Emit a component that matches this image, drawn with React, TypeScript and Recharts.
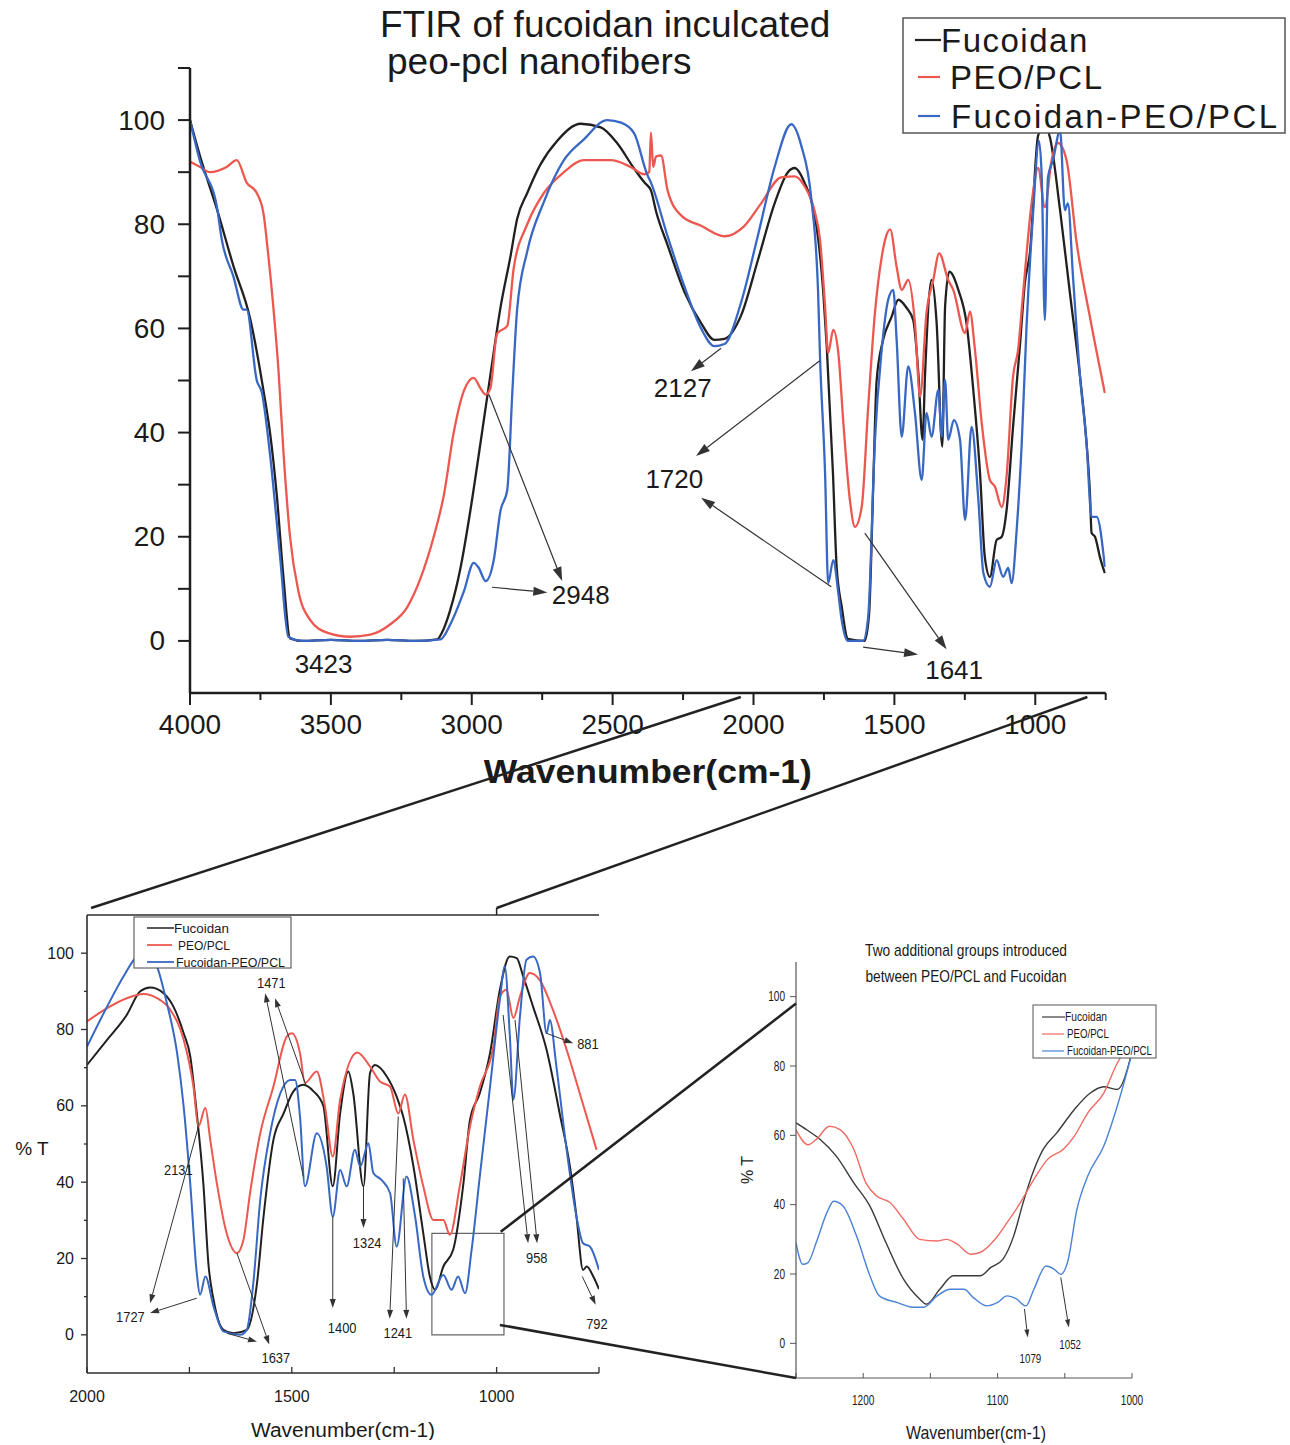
import React from 'react';
import { LineChart, Line, XAxis, YAxis, ReferenceLine, ReferenceDot, ReferenceArea } from 'recharts';

// ---------------- Top panel (full spectrum) ----------------
const topFucoidanWn = [4000,3964,3905,3846,3787,3739,3716,3692,3668,3645,3600,3500,3400,3300,3200,3123,3099,3076,3040,3005,2969,2934,2898,2862,2839,2803,2756,2697,2613,2542,2483,2424,2387,2364,2346,2305,2245,2186,2139,2103,2044,1985,1925,1878,1854,1819,1783,1770,1753,1740,1718,1705,1687,1665,1606,1590,1575,1563,1540,1510,1486,1456,1433,1415,1400,1391,1368,1350,1330,1320,1305,1273,1244,1220,1196,1179,1161,1137,1119,1102,1079,1054,1037,1019,990,968,948,912,877,841,818,806,800,788,770,753];
const topFucoidanT = [100,93,83,72,62,48,40,28,12,0.5,0,0.2,0,0.2,0,0.3,2.4,6,14,25,38,51,64,74,81,86,91.5,96,99.3,98.6,95.5,90.7,88,86.5,82.5,76,67,61,57.8,58,62.5,73,84,90,90.8,88,81.7,77,67.4,56.5,32.2,14.3,6.6,0.4,0,5,30,50,57.8,62.2,65.5,63.9,61.6,51.4,38.6,51.4,69.3,61,37.3,64.2,70.9,67.4,61,48.2,32.2,16.1,12.3,19.4,20,25,41,57,68.7,74.5,97,99,96.7,82.7,66.8,50.7,38,28.4,20.7,20,16,13];

const topPeoPclWn = [4000,3964,3929,3870,3834,3799,3763,3739,3722,3704,3686,3668,3645,3615,3573,3514,3431,3360,3289,3230,3182,3135,3099,3064,3028,2993,2969,2951,2934,2910,2874,2851,2803,2744,2673,2602,2507,2436,2387,2370,2364,2356,2346,2328,2305,2257,2186,2103,2032,1973,1902,1854,1819,1783,1764,1746,1735,1717,1699,1681,1658,1640,1616,1593,1569,1545,1533,1515,1492,1474,1451,1427,1409,1386,1362,1341,1309,1291,1249,1232,1214,1190,1161,1143,1119,1102,1079,1061,1043,1013,990,966,942,919,889,853,806,753];
const topPeoPclT = [92,91,90,91,92.3,88,86,82,74,64,52,36,20,9.5,4,1.6,0.8,1.2,3.2,6.4,12,20,28,40,48,50.5,48.5,47.3,48.5,59,60.5,71.6,80,86,90,92.3,92.3,91,89.6,90,97.6,91,93,93.2,86.5,81.7,79.7,77.7,79.7,84,89,89.2,87.3,82.5,77,64.2,55.3,59.7,55.3,41.8,27.1,21.9,25.7,44.9,63,73.7,77,79,71.8,67.4,69.3,61,46.9,63,69.3,74.4,69.3,67.4,59.1,63.2,55.9,41.8,30.9,29.6,25.7,31.5,50.7,55.9,66.8,84,90.8,83.3,92.3,95.6,92.3,76.4,62.2,47.6];

const topComboWn = [4000,3964,3905,3887,3846,3810,3799,3763,3745,3716,3680,3651,3600,3500,3400,3300,3200,3111,3076,3028,2993,2975,2951,2922,2898,2874,2856,2839,2803,2744,2673,2602,2519,2470,2424,2377,2364,2305,2245,2186,2139,2103,2044,1985,1925,1866,1830,1795,1771,1764,1746,1735,1717,1699,1687,1665,1611,1593,1569,1545,1522,1504,1492,1474,1451,1427,1403,1386,1368,1344,1332,1320,1309,1289,1267,1249,1226,1202,1184,1161,1137,1114,1096,1084,1066,1048,1031,1007,987,977,966,955,937,912,895,884,866,841,818,800,782,753];
const topComboT = [100,92,83.5,77,70,63.6,63.6,50,47.7,35.8,16,0.8,0,0.2,0,0.2,0,0.3,3.2,9.5,15,14,11.5,15.5,25,29,47.7,63.6,74.8,84.3,92.3,96.3,100,99.5,97.5,89.5,88,77.7,68,60,56.6,57,65,77.7,91,99.2,95,85,67.3,54.6,32.2,11.1,15.5,9.2,4,0,0,4.6,38.6,55.9,65.5,67.4,57.8,39.2,52.7,43.8,30.9,43.8,39.2,48.2,39.2,50.1,38.6,42.4,38.6,23.2,41.1,27.1,13,10.4,15.5,12.3,14,11.1,21.3,38,60.3,82.7,96,89,61.6,89,92.3,98,82.7,84,69.9,50.7,38,23.8,23.8,14.2];

const topXTicks = [4000,3750,3500,3250,3000,2750,2500,2250,2000,1750,1500,1250,1000,750];
const topXMajor = [4000,3500,3000,2500,2000,1500,1000];
const topYTicks = [0,10,20,30,40,50,60,70,80,90,100,110];
const topYMajor = [0,20,40,60,80,100];

const topArrows = [
  { from: [2928, 10.3], to: [2732, 9.3] },
  { from: [2939, 47.3], to: [2679, 11.5] },
  { from: [2115, 56.2], to: [2222, 51.8] },
  { from: [1765, 53.8], to: [2204, 35.5] },
  { from: [1724, 10.4], to: [2186, 27.5] },
  { from: [1605, 20.7], to: [1315, -1.6] },
  { from: [1611, -1.2], to: [1416, -2.6] },
];
const topPeakLabels = [
  { wn: 3526, t: -4.4, text: '3423' },
  { wn: 2613, t: 8.8, text: '2948' },
  { wn: 2251, t: 48.6, text: '2127' },
  { wn: 2281, t: 31.1, text: '1720' },
  { wn: 1288, t: -5.6, text: '1641' },
];

// ---------------- Bottom-left panel (2000-750) ----------------
const zoomFucoidanWn = [2000,1951,1903,1870,1846,1813,1789,1764,1748,1732,1716,1703,1691,1667,1642,1610,1585,1569,1545,1520,1496,1472,1447,1423,1400,1382,1362,1350,1325,1309,1297,1268,1244,1228,1203,1179,1163,1150,1130,1106,1081,1065,1041,1016,992,968,951,935,911,878,846,821,805,789,780,764,750];
const zoomFucoidanT = [70.7,77.3,83.8,90,91,89.5,86,79,73,58,39.7,17.9,9.2,1.3,0.4,1.3,13.5,31,51,58,63.8,65.5,63.8,60,38.9,58,69,63.3,38.9,68.6,70.7,67.7,62.4,57.2,44.1,26.6,15.3,11.8,17.9,22.3,39.7,56.3,63.3,73.8,90.4,99.1,98.7,93.9,86,74.7,58,44.1,31,17,17.9,15.3,12];

const zoomPeoPclWn = [2000,1951,1903,1862,1829,1797,1764,1740,1728,1711,1699,1683,1659,1634,1618,1602,1577,1545,1512,1500,1480,1468,1439,1419,1400,1382,1340,1309,1285,1260,1240,1224,1203,1179,1154,1130,1114,1090,1065,1041,1008,992,976,959,943,919,895,862,829,797,756];
const zoomPeoPclT = [82.1,85.6,88.2,89.3,88.2,85.2,77.3,65,54.6,59.4,51,39.7,26.6,21.4,24.9,37.1,52.8,65,78.2,79,73.8,66,69,59.8,46.7,61.6,74,70.3,66.4,65,58,63,51,38.9,30.1,30.1,26.2,38.9,54.6,65,75.5,88.6,90.4,83,88.6,94.8,93,85,74.7,63.3,48.5];

const zoomComboWn = [2000,1951,1911,1878,1854,1829,1805,1780,1764,1748,1732,1724,1711,1691,1667,1626,1610,1594,1577,1553,1528,1504,1492,1480,1468,1439,1415,1400,1382,1366,1346,1333,1313,1301,1281,1260,1244,1220,1199,1179,1159,1130,1110,1094,1077,1061,1041,1016,992,980,968,959,943,927,911,894,878,870,854,829,805,789,772,750];
const zoomComboT = [75.5,86,93.9,99.1,100,96.5,86.9,73.8,59.8,39.7,16.2,10.5,15.3,7.4,0.9,0,1.3,13.5,35.4,52.8,63.3,66.8,66.8,57.2,38.9,52.8,44.1,31,43.2,38.9,48.5,44.1,50.2,42.4,40.6,37.1,23.1,41.5,31,15.3,10.5,15.7,11.8,15.3,10.9,22.3,41.5,65,87.8,96.5,79,61.6,83.4,98.3,99.1,94.8,79,82.5,70.3,48.5,31,24,23.1,17];

const zoomXTicks = [2000,1750,1500,1250,1000,750];
const zoomXMajor = [2000,1500,1000];
const zoomYTicks = [0,10,20,30,40,50,60,70,80,90,100];
const zoomYMajor = [0,20,40,60,80,100];

const zoomArrows = [
  { from: [1472, 41.5], to: [1565, 89.5] },
  { from: [1464, 65], to: [1541, 88.2] },
  { from: [1728, 54.6], to: [1846, 8.3] },
  { from: [1732, 9.6], to: [1846, 5.7] },
  { from: [1634, 21.4], to: [1555, -2.5] },
  { from: [1658, 0.4], to: [1585, -1.8] },
  { from: [1400, 31], to: [1400, 7] },
  { from: [1325, 38.9], to: [1325, 28] },
  { from: [1240, 57.2], to: [1261, 4.2] },
  { from: [1228, 41], to: [1220, 4.2] },
  { from: [984, 83.8], to: [923, 24] },
  { from: [955, 82.5], to: [901, 24] },
  { from: [878, 79], to: [813, 76.4] },
  { from: [791, 15.3], to: [758, 7.9] },
];
const zoomPeakLabels = [
  { wn: 1550, t: 92, text: '1471' },
  { wn: 1777, t: 43.2, text: '2131' },
  { wn: 1894, t: 4.5, text: '1727' },
  { wn: 1539, t: -6.2, text: '1637' },
  { wn: 1377, t: 1.6, text: '1400' },
  { wn: 1316, t: 24, text: '1324' },
  { wn: 1241, t: 0.5, text: '1241' },
  { wn: 902, t: 20.1, text: '958' },
  { wn: 777, t: 76, text: '881' },
  { wn: 755, t: 2.7, text: '792' },
];
const zoomBox = { wnFrom: 1158, wnTo: 982, tFrom: 0, tTo: 26.6 };

// ---------------- Bottom-right panel (1250-1000) ----------------
const detailFucoidanWn = [1250,1242,1232,1220,1207,1195,1183,1170,1158,1153,1143,1133,1123,1113,1105,1096,1088,1081,1073,1066,1056,1043,1031,1021,1011,1000];
const detailFucoidanT = [63.6,61.6,58.8,54,46.3,39.6,29,18.5,12.8,11.3,15.6,19.5,19.5,19.5,21.9,24.3,31,40.6,50,56,60.7,67.4,72.2,74,73.2,84];
const detailPeoPclWn = [1250,1241,1235,1225,1217,1207,1198,1190,1180,1170,1158,1145,1138,1130,1120,1113,1103,1093,1083,1073,1063,1051,1043,1033,1021,1011,1000];
const detailPeoPclT = [61.6,57.3,58.8,62.6,61.6,56,46.3,42.5,40.6,35.8,30,29.5,30,28.6,25.7,26.2,29.5,34.8,40.6,47.3,53,56,59.7,66.4,72.2,80.8,87];
const detailComboWn = [1250,1245,1241,1235,1227,1222,1215,1205,1195,1188,1175,1163,1155,1145,1135,1125,1118,1108,1100,1093,1086,1079,1073,1064,1058,1053,1048,1041,1033,1021,1011,1000];
const detailComboT = [29,22.8,23.3,29,37.7,41,39.6,31,19.5,13.7,11.8,10.4,10.4,13.7,15.6,15.6,13.2,10.8,11.8,13.7,12.8,10.8,15.6,22.3,21.4,19.9,23.3,38.6,48.2,56.9,68.4,83.7];

const detailXTicks = [1250,1200,1150,1100,1050,1000];
const detailXMajor = [1200,1100,1000];
const detailYTicks = [0,20,40,60,80,100];
const detailYMajor = [0,20,40,60,80,100];
const detailArrows = [
  { from: [1080, 9.9], to: [1077.6, 1.7] },
  { from: [1053, 19], to: [1047, 4.6] },
];
const detailPeakLabels = [
  { wn: 1075.6, t: -4.5, text: '1079' },
  { wn: 1046, t: -0.2, text: '1052' },
];

const SERIES_NAMES = ['Fucoidan', 'PEO/PCL', 'Fucoidan-PEO/PCL'];

// ---------------- layout ----------------
const SANS = "'Liberation Sans', Arial, sans-serif";
const C_BLACK = '#221f1f';
const C_RED = '#ec5850';
const C_BLUE = '#3868c3';

const TOP = { left: 190, top: 68, width: 915.7, height: 625, wMin: 750, wMax: 4000 };
const BL = { boxLeft: 0, boxTop: 880, w: 640, h: 560, left: 87, top: 915, width: 512, height: 458, wMin: 750, wMax: 2000 };
const BR = { boxLeft: 700, boxTop: 900, w: 450, h: 545, left: 796, top: 962, width: 336, height: 416, wMin: 1000, wMax: 1250 };

const topX = (w: number) => TOP.left + ((TOP.wMax - w) / (TOP.wMax - TOP.wMin)) * TOP.width;
const topY = (v: number) => TOP.top + ((110 - v) / 120) * TOP.height;
const blX = (w: number) => BL.left + ((BL.wMax - w) / (BL.wMax - BL.wMin)) * BL.width;
const blY = (v: number) => BL.top + ((110 - v) / 120) * BL.height;
const brX = (w: number) => BR.left + ((BR.wMax - w) / (BR.wMax - BR.wMin)) * BR.width;
const brY = (v: number) => BR.top + ((110 - v) / 120) * BR.height;

const rows = (wn: number[], t: number[]) => wn.map((w, i) => ({ wn: w, t: t[i] }));

type TickOpts = {
  side: 'bottom' | 'left' | 'top';
  majors: number[];
  len: number;
  minorLen: number;
  inward: boolean;
  fontSize: number;
  gap: number;
  color: string;
  stroke: number;
  labels: boolean;
  squeeze?: number;
};

const makeTick = (o: TickOpts) => (props: any) => {
  const { x, y, payload } = props;
  const v = payload ? payload.value : 0;
  const major = o.majors.includes(v);
  const L = major ? o.len : o.minorLen;
  const sq = o.squeeze || 1;
  if (o.side === 'left') {
    const x2 = o.inward ? x + L : x - L;
    const tx = x - o.gap;
    return (
      <g>
        <line x1={x} y1={y} x2={x2} y2={y} stroke={o.color} strokeWidth={o.stroke} />
        {major && o.labels ? (
          <text x={tx} y={y} transform={sq !== 1 ? `translate(${tx} 0) scale(${sq} 1) translate(${-tx} 0)` : undefined} textAnchor="end" dominantBaseline="central" fontSize={o.fontSize} fontFamily={SANS} fill="#1a1a1a">{v}</text>
        ) : null}
      </g>
    );
  }
  if (o.side === 'top') {
    const y2 = o.inward ? y + L : y - L;
    return <g><line x1={x} y1={y} x2={x} y2={y2} stroke={o.color} strokeWidth={o.stroke} /></g>;
  }
  const y2 = o.inward ? y - L : y + L;
  return (
    <g>
      <line x1={x} y1={y} x2={x} y2={y2} stroke={o.color} strokeWidth={o.stroke} />
      {major && o.labels ? (
        <text x={x} y={y + o.gap} transform={sq !== 1 ? `translate(${x} 0) scale(${sq} 1) translate(${-x} 0)` : undefined} textAnchor="middle" dominantBaseline="central" fontSize={o.fontSize} fontFamily={SANS} fill="#1a1a1a">{v}</text>
      ) : null}
    </g>
  );
};

const arrowShape = (color: string, width: number, headLen: number, headHalf: number) => (p: any) => {
  const { x1, y1, x2, y2 } = p;
  if ([x1, y1, x2, y2].some((n) => typeof n !== 'number' || isNaN(n))) return <g />;
  const dx = x2 - x1;
  const dy = y2 - y1;
  const L = Math.hypot(dx, dy) || 1;
  const ux = dx / L;
  const uy = dy / L;
  const bx = x2 - ux * headLen;
  const by = y2 - uy * headLen;
  const px = -uy * headHalf;
  const py = ux * headHalf;
  return (
    <g>
      <line x1={x1} y1={y1} x2={bx} y2={by} stroke={color} strokeWidth={width} />
      <polygon points={`${x2},${y2} ${bx + px},${by + py} ${bx - px},${by - py}`} fill={color} />
    </g>
  );
};

const textShape = (text: string, size: number, squeeze = 1) => (p: any) => (
  <text
    x={p.cx}
    y={p.cy}
    transform={squeeze !== 1 ? `translate(${p.cx} 0) scale(${squeeze} 1) translate(${-p.cx} 0)` : undefined}
    textAnchor="middle"
    dominantBaseline="central"
    fontSize={size}
    fontFamily={SANS}
    fill="#1a1a1a"
  >
    {text}
  </text>
);

function TopPanel() {
  const axisStroke = '#1e1e1e';
  return (
    <div style={{ position: 'absolute', left: 0, top: 0 }}>
      <LineChart
        width={1290}
        height={800}
        margin={{ top: TOP.top, right: 1290 - TOP.left - TOP.width, bottom: 800 - TOP.top - TOP.height - 40, left: TOP.left - 80 }}
      >
        <XAxis
          dataKey="wn"
          type="number"
          domain={[TOP.wMin, TOP.wMax]}
          reversed
          allowDataOverflow
          ticks={topXTicks}
          interval={0}
          tickSize={0}
          tickMargin={0}
          tickLine={false}
          height={40}
          axisLine={{ stroke: axisStroke, strokeWidth: 2.5 }}
          tick={makeTick({ side: 'bottom', majors: topXMajor, len: 12, minorLen: 7, inward: false, fontSize: 28, gap: 31, color: axisStroke, stroke: 2, labels: true })}
          label={(p: any) => {
            const vb = p && p.viewBox ? p.viewBox : { x: TOP.left, y: TOP.top + TOP.height, width: TOP.width };
            return (
              <text x={vb.x + vb.width / 2} y={vb.y + 90} textAnchor="middle" textLength={328} lengthAdjust="spacingAndGlyphs" fontSize={33} fontWeight="bold" fontFamily={SANS} fill="#1a1a1a">
                Wavenumber(cm-1)
              </text>
            );
          }}
        />
        <YAxis
          type="number"
          domain={[-10, 110]}
          allowDataOverflow
          ticks={topYTicks}
          interval={0}
          tickSize={0}
          tickMargin={0}
          tickLine={false}
          width={80}
          axisLine={{ stroke: axisStroke, strokeWidth: 2.5 }}
          tick={makeTick({ side: 'left', majors: topYMajor, len: 12, minorLen: 12, inward: false, fontSize: 28, gap: 25, color: axisStroke, stroke: 2, labels: true })}
        />
        <Line data={rows(topFucoidanWn, topFucoidanT)} dataKey="t" name={SERIES_NAMES[0]} type="monotone" stroke={C_BLACK} strokeWidth={2.3} dot={false} isAnimationActive={false} />
        <Line data={rows(topPeoPclWn, topPeoPclT)} dataKey="t" name={SERIES_NAMES[1]} type="monotone" stroke={C_RED} strokeWidth={2.3} dot={false} isAnimationActive={false} />
        <Line data={rows(topComboWn, topComboT)} dataKey="t" name={SERIES_NAMES[2]} type="monotone" stroke={C_BLUE} strokeWidth={2.3} dot={false} isAnimationActive={false} />
        {topArrows.map((a, i) => (
          <ReferenceLine key={'ta' + i} segment={[{ x: a.from[0], y: a.from[1] }, { x: a.to[0], y: a.to[1] }]} ifOverflow="visible" shape={arrowShape('#333', 1.2, 14, 4.5)} />
        ))}
        {topPeakLabels.map((l, i) => (
          <ReferenceDot key={'tl' + i} x={l.wn} y={l.t} r={0} ifOverflow="visible" shape={textShape(l.text, 26)} />
        ))}
      </LineChart>
    </div>
  );
}

function ZoomPanel() {
  const axisStroke = '#2e2e2e';
  return (
    <div style={{ position: 'absolute', left: BL.boxLeft, top: BL.boxTop }}>
      <LineChart
        width={BL.w}
        height={BL.h}
        margin={{ top: BL.top - BL.boxTop - 30, right: BL.w - (BL.left - BL.boxLeft) - BL.width, bottom: BL.h - (BL.top - BL.boxTop) - BL.height - 30, left: BL.left - BL.boxLeft - 50 }}
      >
        <XAxis
          dataKey="wn"
          type="number"
          domain={[BL.wMin, BL.wMax]}
          reversed
          allowDataOverflow
          ticks={zoomXTicks}
          interval={0}
          tickSize={0}
          tickMargin={0}
          tickLine={false}
          height={30}
          axisLine={{ stroke: axisStroke, strokeWidth: 1.6 }}
          tick={makeTick({ side: 'bottom', majors: zoomXMajor, len: 6, minorLen: 6, inward: true, fontSize: 16, gap: 23, color: axisStroke, stroke: 1.3, labels: true })}
          label={(p: any) => {
            const vb = p && p.viewBox ? p.viewBox : { x: BL.left, y: BL.top + BL.height - BL.boxTop, width: BL.width };
            return (
              <text x={vb.x + vb.width / 2} y={vb.y + 64} textAnchor="middle" textLength={184} lengthAdjust="spacingAndGlyphs" fontSize={20} fontFamily={SANS} fill="#1a1a1a">
                Wavenumber(cm-1)
              </text>
            );
          }}
        />
        <XAxis
          xAxisId="top"
          orientation="top"
          type="number"
          domain={[BL.wMin, BL.wMax]}
          reversed
          allowDataOverflow
          ticks={zoomXTicks}
          interval={0}
          tickSize={0}
          tickMargin={0}
          tickLine={false}
          height={30}
          axisLine={{ stroke: axisStroke, strokeWidth: 1.6 }}
          tick={makeTick({ side: 'top', majors: zoomXMajor, len: 5, minorLen: 5, inward: false, fontSize: 16, gap: 0, color: axisStroke, stroke: 1.3, labels: false })}
        />
        <YAxis
          type="number"
          domain={[-10, 110]}
          allowDataOverflow
          ticks={zoomYTicks}
          interval={0}
          tickSize={0}
          tickMargin={0}
          tickLine={false}
          width={50}
          axisLine={{ stroke: axisStroke, strokeWidth: 1.6 }}
          tick={makeTick({ side: 'left', majors: zoomYMajor, len: 6, minorLen: 3, inward: false, fontSize: 16, gap: 13, color: axisStroke, stroke: 1.3, labels: true })}
          label={(p: any) => {
            const vb = p && p.viewBox ? p.viewBox : { x: BL.left - 50, y: BL.top - BL.boxTop };
            return (
              <text x={vb.x - 5} y={vb.y + 240} textAnchor="middle" fontSize={19} fontFamily={SANS} fill="#1a1a1a">
                % T
              </text>
            );
          }}
        />
        <Line data={rows(zoomFucoidanWn, zoomFucoidanT)} dataKey="t" name={SERIES_NAMES[0]} type="monotone" stroke={C_BLACK} strokeWidth={2} dot={false} isAnimationActive={false} />
        <Line data={rows(zoomPeoPclWn, zoomPeoPclT)} dataKey="t" name={SERIES_NAMES[1]} type="monotone" stroke={C_RED} strokeWidth={2} dot={false} isAnimationActive={false} />
        <Line data={rows(zoomComboWn, zoomComboT)} dataKey="t" name={SERIES_NAMES[2]} type="monotone" stroke={C_BLUE} strokeWidth={2} dot={false} isAnimationActive={false} />
        <ReferenceArea x1={zoomBox.wnFrom} x2={zoomBox.wnTo} y1={zoomBox.tFrom} y2={zoomBox.tTo} fill="none" fillOpacity={0} stroke="#666" strokeWidth={1.2} ifOverflow="visible" />
        {zoomArrows.map((a, i) => (
          <ReferenceLine key={'za' + i} segment={[{ x: a.from[0], y: a.from[1] }, { x: a.to[0], y: a.to[1] }]} ifOverflow="visible" shape={arrowShape('#333', 1, 9, 3)} />
        ))}
        {zoomPeakLabels.map((l, i) => (
          <ReferenceDot key={'zl' + i} x={l.wn} y={l.t} r={0} ifOverflow="visible" shape={textShape(l.text, 14, 0.92)} />
        ))}
      </LineChart>
    </div>
  );
}

function DetailPanel() {
  const axisStroke = '#555';
  return (
    <div style={{ position: 'absolute', left: BR.boxLeft, top: BR.boxTop }}>
      <LineChart
        width={BR.w}
        height={BR.h}
        margin={{ top: BR.top - BR.boxTop, right: BR.w - (BR.left - BR.boxLeft) - BR.width, bottom: BR.h - (BR.top - BR.boxTop) - BR.height - 25, left: BR.left - BR.boxLeft - 40 }}
      >
        <XAxis
          dataKey="wn"
          type="number"
          domain={[BR.wMin, BR.wMax]}
          reversed
          allowDataOverflow
          ticks={detailXTicks}
          interval={0}
          tickSize={0}
          tickMargin={0}
          tickLine={false}
          height={25}
          axisLine={{ stroke: axisStroke, strokeWidth: 1.2 }}
          tick={makeTick({ side: 'bottom', majors: detailXMajor, len: 5, minorLen: 5, inward: true, fontSize: 14, gap: 22, color: axisStroke, stroke: 1, labels: true, squeeze: 0.72 })}
          label={(p: any) => {
            const vb = p && p.viewBox ? p.viewBox : { x: BR.left - BR.boxLeft, y: BR.top + BR.height - BR.boxTop, width: BR.width };
            const cx = vb.x + vb.width / 2 + 12;
            return (
              <text x={cx} y={vb.y + 61} textLength={140} lengthAdjust="spacingAndGlyphs" textAnchor="middle" fontSize={19} fontFamily={SANS} fill="#1a1a1a">
                Wavenumber(cm-1)
              </text>
            );
          }}
        />
        <YAxis
          type="number"
          domain={[-10, 110]}
          allowDataOverflow
          ticks={detailYTicks}
          interval={0}
          tickSize={0}
          tickMargin={0}
          tickLine={false}
          width={40}
          axisLine={{ stroke: axisStroke, strokeWidth: 1.2 }}
          tick={makeTick({ side: 'left', majors: detailYMajor, len: 6, minorLen: 3, inward: false, fontSize: 14, gap: 11, color: axisStroke, stroke: 1, labels: true, squeeze: 0.72 })}
          label={(p: any) => {
            const vb = p && p.viewBox ? p.viewBox : { x: BR.left - BR.boxLeft - 40, y: BR.top - BR.boxTop };
            const cx = vb.x - 9;
            const cy = vb.y + 208;
            return (
              <text x={cx} y={cy} transform={`rotate(-90 ${cx} ${cy})`} textAnchor="middle" dominantBaseline="central" fontSize={16} fontFamily={SANS} fill="#1a1a1a">
                % T
              </text>
            );
          }}
        />
        <Line data={rows(detailFucoidanWn, detailFucoidanT)} dataKey="t" name={SERIES_NAMES[0]} type="monotone" stroke="#3a3a3a" strokeWidth={1.4} dot={false} isAnimationActive={false} />
        <Line data={rows(detailPeoPclWn, detailPeoPclT)} dataKey="t" name={SERIES_NAMES[1]} type="monotone" stroke="#f06a62" strokeWidth={1.4} dot={false} isAnimationActive={false} />
        <Line data={rows(detailComboWn, detailComboT)} dataKey="t" name={SERIES_NAMES[2]} type="monotone" stroke="#4a82d6" strokeWidth={1.4} dot={false} isAnimationActive={false} />
        {detailArrows.map((a, i) => (
          <ReferenceLine key={'da' + i} segment={[{ x: a.from[0], y: a.from[1] }, { x: a.to[0], y: a.to[1] }]} ifOverflow="visible" shape={arrowShape('#333', 1, 8, 2.5)} />
        ))}
        {detailPeakLabels.map((l, i) => (
          <ReferenceDot key={'dl' + i} x={l.wn} y={l.t} r={0} ifOverflow="visible" shape={textShape(l.text, 13, 0.75)} />
        ))}
      </LineChart>
    </div>
  );
}

function Overlay() {
  const colors = [C_BLACK, C_RED, C_BLUE];
  return (
    <svg width={1290} height={1445} style={{ position: 'absolute', left: 0, top: 0, pointerEvents: 'none' }}>
      {/* main title */}
      <text x={380} y={37} fontSize={37} fontFamily={SANS} fill="#1a1a1a">FTIR of fucoidan inculcated</text>
      <text x={387} y={74} fontSize={37} fontFamily={SANS} fill="#1a1a1a">peo-pcl nanofibers</text>

      {/* main legend */}
      <rect x={903} y={18} width={382} height={115} fill="#fff" stroke="#555" strokeWidth={1.5} />
      <line x1={915} y1={40} x2={941} y2={40} stroke={colors[0]} strokeWidth={2.2} />
      <text x={941} y={52} fontSize={33} letterSpacing={1.5} fontFamily={SANS} fill="#1a1a1a">{SERIES_NAMES[0]}</text>
      <line x1={918} y1={77} x2={940} y2={77} stroke={colors[1]} strokeWidth={2.2} />
      <text x={950} y={89} fontSize={33} letterSpacing={1.5} fontFamily={SANS} fill="#1a1a1a">{SERIES_NAMES[1]}</text>
      <line x1={918} y1={116} x2={940} y2={116} stroke={colors[2]} strokeWidth={2.2} />
      <text x={951} y={128} fontSize={33} textLength={326} lengthAdjust="spacing" fontFamily={SANS} fill="#1a1a1a">{SERIES_NAMES[2]}</text>

      {/* zoom connectors: top spectrum -> 2000-750 panel */}
      <line x1={topX(2045)} y1={topY(-10) + 4} x2={blX(1990)} y2={blY(110) - 7} stroke="#222" strokeWidth={2.5} />
      <line x1={topX(815)} y1={topY(-10) + 4} x2={blX(1000)} y2={blY(110) - 7} stroke="#222" strokeWidth={2.5} />
      <line x1={blX(1000)} y1={blY(110) - 7} x2={blX(1000)} y2={blY(110)} stroke="#222" strokeWidth={1.5} />

      {/* zoom connectors: box -> detail panel */}
      <line x1={blX(990)} y1={blY(27)} x2={brX(1250)} y2={brY(98)} stroke="#222" strokeWidth={2.5} />
      <line x1={blX(992)} y1={blY(2.6)} x2={brX(1250)} y2={brY(-10)} stroke="#222" strokeWidth={2.5} />

      {/* 2000-750 panel legend */}
      <rect x={134} y={917} width={157} height={51} fill="#fff" stroke="#444" strokeWidth={1} />
      <line x1={147} y1={928} x2={174} y2={928} stroke={colors[0]} strokeWidth={1.5} />
      <text x={174} y={932.5} fontSize={13} textLength={55} lengthAdjust="spacingAndGlyphs" fontFamily={SANS} fill="#1a1a1a">{SERIES_NAMES[0]}</text>
      <line x1={147} y1={945} x2={172} y2={945} stroke={colors[1]} strokeWidth={1.8} />
      <text x={178} y={949.5} fontSize={13} textLength={52} lengthAdjust="spacingAndGlyphs" fontFamily={SANS} fill="#1a1a1a">{SERIES_NAMES[1]}</text>
      <line x1={147} y1={962} x2={174} y2={962} stroke={colors[2]} strokeWidth={1.8} />
      <text x={176} y={966.5} fontSize={13} textLength={109} lengthAdjust="spacingAndGlyphs" fontFamily={SANS} fill="#1a1a1a">{SERIES_NAMES[2]}</text>

      {/* detail panel title */}
      <text x={966} y={956} textAnchor="middle" fontSize={17} textLength={202} lengthAdjust="spacingAndGlyphs" fontFamily={SANS} fill="#1a1a1a">Two additional groups introduced</text>
      <text x={966} y={982} textAnchor="middle" fontSize={17} textLength={201} lengthAdjust="spacingAndGlyphs" fontFamily={SANS} fill="#1a1a1a">between PEO/PCL and Fucoidan</text>

      {/* detail panel legend */}
      <rect x={1033} y={1005} width={123} height={53} fill="#fff" stroke="#555" strokeWidth={1} />
      <line x1={1042} y1={1017} x2={1065} y2={1017} stroke="#3a3a3a" strokeWidth={1.2} />
      <text x={1065} y={1021} fontSize={12} textLength={42} lengthAdjust="spacingAndGlyphs" fontFamily={SANS} fill="#1a1a1a">{SERIES_NAMES[0]}</text>
      <line x1={1042} y1={1034} x2={1064} y2={1034} stroke="#f06a62" strokeWidth={1.2} />
      <text x={1067} y={1038} fontSize={12} textLength={42} lengthAdjust="spacingAndGlyphs" fontFamily={SANS} fill="#1a1a1a">{SERIES_NAMES[1]}</text>
      <line x1={1042} y1={1051} x2={1064} y2={1051} stroke="#4a82d6" strokeWidth={1.2} />
      <text x={1067} y={1055} fontSize={12} textLength={85} lengthAdjust="spacingAndGlyphs" fontFamily={SANS} fill="#1a1a1a">{SERIES_NAMES[2]}</text>
    </svg>
  );
}

export default function App() {
  return (
    <div style={{ position: 'absolute', left: 0, top: 0, width: 1290, height: 1445, background: '#fff', overflow: 'hidden' }}>
      <TopPanel />
      <ZoomPanel />
      <DetailPanel />
      <Overlay />
    </div>
  );
}
